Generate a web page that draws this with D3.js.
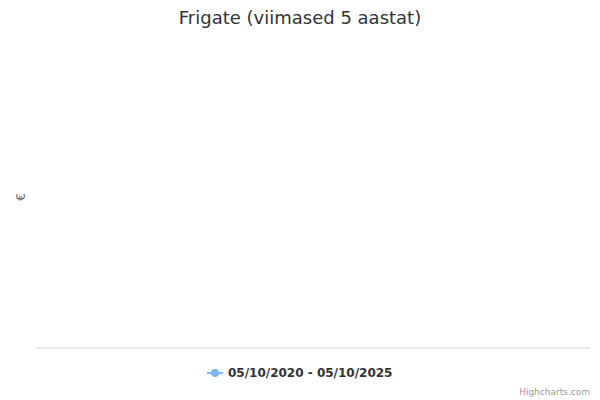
<!DOCTYPE html>
<html>
<head>
<meta charset="utf-8">
<script src="https://cdn.jsdelivr.net/npm/d3@7"></script>
<style>
  body { margin: 0; background: #fff; }
  text { font-family: "DejaVu Sans", sans-serif; }
</style>
</head>
<body>
<script>
const titleText = "Frigate (viimased 5 aastat)";
const yAxisTitle = "€";
const seriesName = "05/10/2020 - 05/10/2025";
const dates = [];   // no points in the reference
const prices = [];

const width = 600, height = 400;
const margin = { top: 45, right: 10, bottom: 53, left: 35 };

const svg = d3.select("body")
    .append("svg")
    .attr("width", width)
    .attr("height", height);

svg.append("rect")
    .attr("width", width)
    .attr("height", height)
    .attr("fill", "#ffffff");

svg.append("text")
    .attr("x", width / 2)
    .attr("y", 24)
    .attr("text-anchor", "middle")
    .attr("font-size", 18)
    .attr("fill", "#333333")
    .text(titleText);

const x = d3.scaleTime()
    .domain(dates.length ? d3.extent(dates) : [0, 1])
    .range([margin.left, width - margin.right]);
const y = d3.scaleLinear()
    .domain(prices.length ? d3.extent(prices) : [0, 1])
    .range([height - margin.bottom, margin.top]);

// x axis: only the baseline shows, no ticks since there is no data
const xAxis = svg.append("g")
    .attr("transform", `translate(0,${height - margin.bottom + 0.5})`)
    .call(d3.axisBottom(x).tickValues(dates).tickSize(0));
xAxis.select(".domain").attr("stroke", "#ccd6eb").attr("stroke-width", 1);

svg.append("text")
    .attr("transform", `translate(25,${(margin.top + height - margin.bottom) / 2 + 1}) rotate(-90)`)
    .attr("text-anchor", "middle")
    .attr("font-size", 12)
    .attr("fill", "#666666")
    .text(yAxisTitle);

const line = d3.line()
    .x((d, i) => x(dates[i]))
    .y(d => y(d));

svg.append("path")
    .datum(prices)
    .attr("fill", "none")
    .attr("stroke", "#7cb5ec")
    .attr("stroke-width", 2)
    .attr("d", line);

// legend
const legend = svg.append("g").attr("transform", "translate(207,373)");
legend.append("line")
    .attr("x1", 0).attr("x2", 16)
    .attr("y1", 0).attr("y2", 0)
    .attr("stroke", "#7cb5ec")
    .attr("stroke-width", 2);
legend.append("circle")
    .attr("cx", 8).attr("cy", 0).attr("r", 4)
    .attr("fill", "#7cb5ec");
legend.append("text")
    .attr("x", 21)
    .attr("y", 4)
    .attr("font-size", 12)
    .attr("font-weight", "bold")
    .attr("fill", "#333333")
    .text(seriesName);

svg.append("text")
    .attr("x", width - 10)
    .attr("y", 395)
    .attr("text-anchor", "end")
    .attr("font-size", 9)
    .attr("fill", "#999999")
    .text("Highcharts.com");
</script>
</body>
</html>
